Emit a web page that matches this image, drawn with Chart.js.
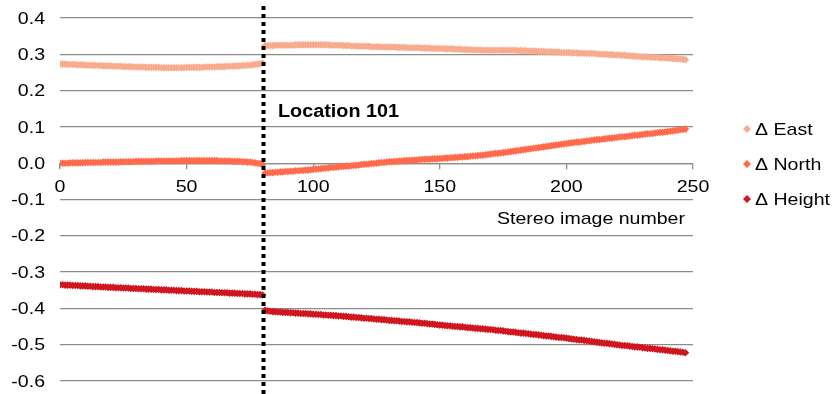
<!DOCTYPE html>
<html>
<head>
<meta charset="utf-8">
<script src="https://cdn.jsdelivr.net/npm/chart.js@4.4.1/dist/chart.umd.min.js"></script>
<style>
  html, body { margin: 0; padding: 0; background: #fff; }
  #wrap { width: 835px; height: 394px; position: relative; }
</style>
</head>
<body>
<div id="wrap"><canvas id="c" width="835" height="394"></canvas></div>
<script>
// Stereo image numbers: first block 0..80, second block 81..247
const imagesA = Array.from({length: 81}, (_, i) => i);
const imagesB = Array.from({length: 167}, (_, i) => 81 + i);

// Offsets (m) for images 0..80
const eastA = [
  .273,.273,.273,.272,.272,.272,.272,.271,.271,.271,
  .270,.270,.270,.269,.269,.269,.269,.268,.268,.268,
  .268,.267,.267,.267,.267,.266,.266,.266,.266,.265,
  .265,.265,.265,.265,.264,.264,.264,.264,.264,.264,
  .263,.263,.263,.263,.263,.263,.263,.263,.263,.263,
  .264,.264,.264,.264,.264,.264,.264,.265,.265,.265,
  .265,.265,.266,.266,.266,.266,.267,.267,.267,.268,
  .268,.268,.269,.269,.270,.270,.271,.272,.273,.274,
  .276
];
const northA = [
  .000,.000,.000,.000,.001,.001,.001,.001,.001,.001,
  .002,.002,.002,.002,.002,.002,.002,.003,.003,.003,
  .003,.003,.003,.003,.004,.004,.004,.004,.004,.004,
  .005,.005,.005,.005,.005,.005,.005,.005,.006,.006,
  .006,.006,.006,.006,.006,.006,.006,.006,.007,.007,
  .007,.007,.007,.007,.007,.007,.007,.007,.007,.007,
  .007,.007,.007,.006,.006,.006,.006,.006,.005,.005,
  .005,.005,.004,.004,.003,.003,.002,.001,.000,-.001,
  -.004
];
const heightA = [
  -.335,-.335,-.336,-.336,-.336,-.337,-.337,-.337,-.338,-.338,
  -.338,-.339,-.339,-.340,-.340,-.340,-.341,-.341,-.341,-.342,
  -.342,-.342,-.343,-.343,-.343,-.344,-.344,-.344,-.345,-.345,
  -.345,-.346,-.346,-.346,-.347,-.347,-.347,-.348,-.348,-.348,
  -.349,-.349,-.349,-.350,-.350,-.350,-.351,-.351,-.351,-.352,
  -.352,-.352,-.353,-.353,-.353,-.354,-.354,-.354,-.355,-.355,
  -.355,-.356,-.356,-.356,-.357,-.357,-.357,-.358,-.358,-.358,
  -.359,-.359,-.359,-.360,-.360,-.360,-.361,-.361,-.362,-.362,
  -.363
];

// Offsets (m) for images 81..247
const eastB = [
  .324,.324,.324,.324,.325,.325,.325,.325,.325,
  .325,.325,.325,.326,.326,.326,.326,.326,.326,.326,
  .326,.326,.326,.326,.326,.326,.326,.325,.325,.325,
  .325,.325,.324,.324,.324,.323,.323,.323,.322,.322,
  .322,.322,.322,.321,.321,.321,.321,.320,.320,.320,
  .320,.320,.320,.319,.319,.319,.319,.318,.318,.318,
  .318,.318,.318,.317,.317,.317,.317,.316,.316,.316,
  .316,.316,.315,.315,.315,.315,.314,.314,.314,.313,
  .313,.313,.313,.312,.312,.312,.312,.311,.311,.311,
  .311,.311,.311,.311,.311,.311,.311,.311,.311,.311,
  .311,.310,.310,.310,.310,.309,.309,.309,.309,.308,
  .308,.308,.307,.307,.307,.306,.306,.306,.305,.305,
  .305,.305,.304,.304,.304,.303,.303,.303,.302,.302,
  .302,.302,.301,.301,.300,.300,.300,.299,.299,.298,
  .298,.298,.297,.297,.296,.296,.295,.295,.294,.294,
  .293,.293,.293,.292,.292,.291,.291,.290,.290,.290,
  .289,.289,.288,.288,.287,.287,.286,.285
];
const northB = [
  -.027,-.027,-.026,-.026,-.025,-.025,-.024,-.024,-.023,
  -.023,-.022,-.022,-.021,-.021,-.020,-.020,-.019,-.019,-.018,
  -.017,-.016,-.016,-.015,-.014,-.014,-.013,-.012,-.012,-.011,
  -.010,-.009,-.009,-.008,-.008,-.007,-.006,-.006,-.005,-.004,
  -.003,-.003,-.002,-.001,-.001,.000,.001,.002,.002,.003,
  .004,.004,.005,.005,.006,.006,.007,.007,.008,.008,
  .009,.009,.010,.010,.011,.011,.011,.012,.012,.012,
  .013,.013,.014,.014,.015,.015,.016,.016,.017,.017,
  .018,.018,.019,.020,.020,.021,.022,.022,.023,.024,
  .025,.026,.027,.027,.028,.029,.030,.031,.032,.033,
  .034,.035,.036,.037,.038,.039,.040,.041,.042,.043,
  .044,.045,.046,.047,.048,.049,.050,.051,.052,.053,
  .054,.055,.056,.057,.058,.058,.059,.060,.061,.062,
  .063,.064,.065,.065,.066,.067,.068,.069,.069,.070,
  .071,.072,.073,.073,.074,.075,.076,.077,.077,.078,
  .079,.080,.081,.081,.082,.083,.084,.085,.085,.086,
  .087,.088,.089,.090,.091,.092,.093,.094
];
const heightB = [
  -.405,-.407,-.408,-.409,-.409,-.410,-.410,-.411,-.411,
  -.411,-.412,-.412,-.413,-.413,-.414,-.414,-.414,-.415,-.415,
  -.416,-.416,-.417,-.417,-.418,-.418,-.419,-.419,-.420,-.420,
  -.421,-.421,-.422,-.422,-.423,-.424,-.424,-.425,-.425,-.426,
  -.427,-.427,-.428,-.428,-.429,-.430,-.430,-.431,-.431,-.432,
  -.433,-.433,-.434,-.434,-.435,-.436,-.436,-.437,-.437,-.438,
  -.439,-.439,-.440,-.441,-.441,-.442,-.443,-.443,-.444,-.445,
  -.446,-.446,-.447,-.448,-.448,-.449,-.450,-.450,-.451,-.451,
  -.452,-.453,-.453,-.454,-.455,-.455,-.456,-.456,-.457,-.458,
  -.458,-.459,-.460,-.461,-.461,-.462,-.463,-.464,-.465,-.465,
  -.466,-.467,-.468,-.468,-.469,-.470,-.471,-.472,-.472,-.473,
  -.474,-.475,-.476,-.476,-.477,-.478,-.479,-.480,-.480,-.481,
  -.482,-.483,-.484,-.485,-.486,-.487,-.487,-.488,-.489,-.490,
  -.491,-.492,-.493,-.494,-.495,-.496,-.496,-.497,-.498,-.499,
  -.500,-.501,-.502,-.502,-.503,-.504,-.505,-.506,-.506,-.507,
  -.508,-.509,-.510,-.510,-.511,-.512,-.513,-.514,-.514,-.515,
  -.516,-.517,-.518,-.518,-.519,-.520,-.521,-.522
];

const seriesNames = ['\u0394 East', '\u0394 North', '\u0394 Height'];
const seriesColors = ['#f9ab8d', '#ff6b4c', '#cf1720'];
const breakImage = 80;
const breakLabel = 'Location 101';
const xTicks = [0, 50, 100, 150, 200, 250];
const yTicks = [0.4, 0.3, 0.2, 0.1, 0.0, -0.1, -0.2, -0.3, -0.4, -0.5, -0.6];
const xTitle = 'Stereo image number';

const FONT = '"Liberation Sans", Arial, sans-serif';
const WIDE = 1.15; // horizontal stretch of the lettering

function pts(xs, ys) { return xs.map((x, i) => ({x: x, y: ys[i]})); }

const datasets = [
  {label: seriesNames[0], data: pts(imagesA, eastA).concat(pts(imagesB, eastB)), backgroundColor: seriesColors[0]},
  {label: seriesNames[1], data: pts(imagesA, northA).concat(pts(imagesB, northB)), backgroundColor: seriesColors[1]},
  {label: seriesNames[2], data: pts(imagesA, heightA).concat(pts(imagesB, heightB)), backgroundColor: seriesColors[2]}
].map(d => Object.assign(d, {
  showLine: false, pointStyle: 'rectRot', pointRadius: 3.8, pointBorderWidth: 0,
  borderColor: d.backgroundColor, pointHoverRadius: 3.8
}));

// draw a text horizontally widened around its anchor
function wideText(ctx, text, x, y, align, baseline, font, sx) {
  ctx.save();
  ctx.font = font;
  ctx.textAlign = align;
  ctx.textBaseline = baseline;
  ctx.translate(x, y);
  ctx.scale(sx, 1);
  ctx.fillText(text, 0, 0);
  ctx.restore();
}

// Tick labels, dotted break line, its label, axis title and the legend
const overlay = {
  id: 'overlay',
  afterDatasetsDraw(chart) {
    const ctx = chart.ctx;
    const xs = chart.scales.x;
    const ys = chart.scales.y;
    const tickFont = '17px ' + FONT;
    ctx.save();
    ctx.fillStyle = '#000';

    yTicks.forEach(v => {
      wideText(ctx, v.toFixed(1), 45, ys.getPixelForValue(v) + 1, 'right', 'middle', tickFont, WIDE);
    });
    const axisY = ys.getPixelForValue(0);
    xTicks.forEach(v => {
      wideText(ctx, String(v), xs.getPixelForValue(v), axisY + 24, 'center', 'middle', tickFont, WIDE);
    });

    const px = Math.round(xs.getPixelForValue(breakImage)) + 0.5;
    ctx.strokeStyle = '#000';
    ctx.lineWidth = 4;
    ctx.setLineDash([4, 4]);
    ctx.beginPath();
    ctx.moveTo(px, 6);
    ctx.lineTo(px, 394);
    ctx.stroke();
    ctx.setLineDash([]);

    wideText(ctx, breakLabel, 278, 117, 'left', 'alphabetic', 'bold 18px ' + FONT, 1.1);
    wideText(ctx, xTitle, 685, 224, 'right', 'alphabetic', tickFont, WIDE);

    // legend
    const ly = [129, 164, 199];
    chart.data.datasets.forEach((ds, i) => {
      const cy = ly[i];
      ctx.fillStyle = ds.backgroundColor;
      ctx.beginPath();
      ctx.moveTo(747, cy - 4);
      ctx.lineTo(751, cy);
      ctx.lineTo(747, cy + 4);
      ctx.lineTo(743, cy);
      ctx.closePath();
      ctx.fill();
      ctx.fillStyle = '#000';
      wideText(ctx, ds.label, 755, cy + 1, 'left', 'middle', tickFont, WIDE);
    });
    ctx.restore();
  }
};

new Chart(document.getElementById('c'), {
  type: 'scatter',
  data: {datasets: datasets},
  plugins: [overlay],
  options: {
    responsive: false,
    animation: false,
    events: [],
    layout: {padding: {left: 0, right: 142, top: 18, bottom: 13}},
    plugins: {legend: {display: false}, tooltip: {enabled: false}},
    scales: {
      x: {
        type: 'linear',
        position: {y: 0},
        min: 0, max: 250,
        afterBuildTicks(s) { s.ticks = xTicks.map(v => ({value: v})); },
        grid: {drawOnChartArea: false, drawTicks: true, tickLength: 5, color: '#8c8c8c', lineWidth: 1.3},
        border: {display: true, color: '#8c8c8c', width: 1.3},
        ticks: {display: false}
      },
      y: {
        type: 'linear',
        min: -0.6, max: 0.4,
        afterBuildTicks(s) { s.ticks = yTicks.map(v => ({value: v})); },
        afterFit(s) { s.width = 60; },
        grid: {drawTicks: false, color: '#8c8c8c', lineWidth: 1.3},
        border: {display: false},
        ticks: {display: false}
      }
    }
  }
});
</script>
</body>
</html>
